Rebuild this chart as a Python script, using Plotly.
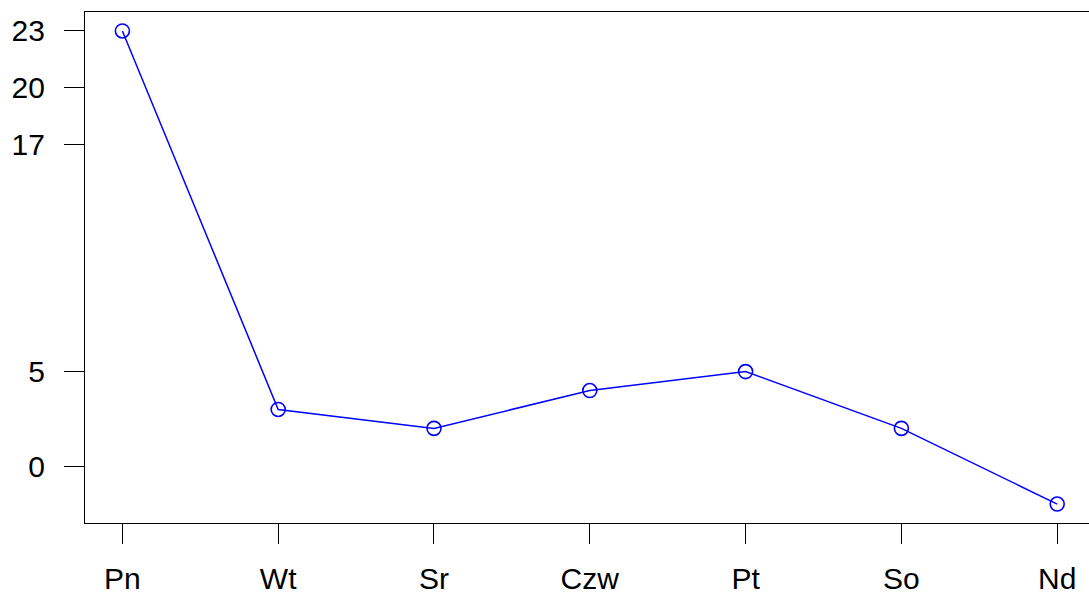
import plotly.graph_objects as go

# Day-of-week labels and counts
days = ["Pn", "Wt", "Sr", "Czw", "Pt", "So", "Nd"]
values = [23, 3, 2, 4, 5, 2, -2]
y_ticks = [0, 5, 17, 20, 23]

positions = list(range(1, len(days) + 1))

fig = go.Figure()
fig.add_trace(go.Scatter(
    x=positions,
    y=values,
    mode="lines+markers",
    line=dict(color="#0000ff", width=1.5),
    marker=dict(symbol="circle-open", size=14, color="#0000ff",
                line=dict(color="#0000ff", width=1.6)),
    showlegend=False,
    hoverinfo="skip",
))

font = dict(family="Liberation Sans, Arial, sans-serif", size=30, color="black")

fig.update_layout(
    width=1089,
    height=597,
    margin=dict(l=85, r=0, t=12, b=74),
    paper_bgcolor="white",
    plot_bgcolor="white",
    font=font,
    xaxis=dict(
        # 4% padding on the left; the right side runs off the page edge
        range=[0.76, 0.76 + 1004 / 155.8],
        tickmode="array",
        tickvals=positions,
        ticktext=days,
        ticks="outside",
        ticklen=20,
        tickwidth=1.3,
        tickcolor="black",
        showline=True,
        mirror=True,
        linecolor="black",
        linewidth=1.3,
        showgrid=False,
        zeroline=False,
        ticklabelstandoff=9,
        tickfont=font,
    ),
    yaxis=dict(
        range=[-3, 24],
        tickmode="array",
        tickvals=y_ticks,
        ticktext=[str(v) for v in y_ticks],
        ticks="outside",
        ticklen=20,
        tickwidth=1.3,
        tickcolor="black",
        showline=True,
        mirror=False,
        linecolor="black",
        linewidth=1.3,
        showgrid=False,
        zeroline=False,
        ticklabelstandoff=13,
        tickfont=font,
    ),
)

fig.write_html("out.html")
